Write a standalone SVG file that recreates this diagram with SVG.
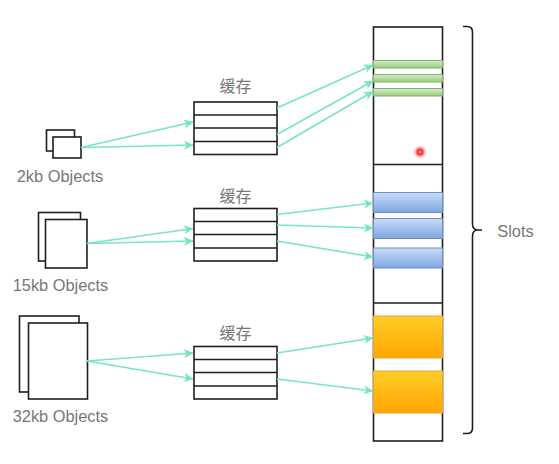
<svg xmlns="http://www.w3.org/2000/svg" width="559" height="464" viewBox="0 0 559 464">
<style>
.box{fill:#fff;stroke:#1f1f1f;stroke-width:1.6}
.line{fill:none;stroke:#1f1f1f;stroke-width:1.6}
.arrow{fill:none;stroke:#78e6bc;stroke-width:1.6;marker-end:url(#ah)}
.t{font-family:"Liberation Sans",Arial,sans-serif;font-size:16.4px;fill:#777;text-anchor:middle}
.cn{font-family:"Noto Sans CJK SC","Liberation Sans",sans-serif;font-size:16px;fill:#777;text-anchor:middle}
.green{fill:url(#gg);stroke:#82b366;stroke-width:1}
.blue{fill:url(#gb);stroke:#6c8ebf;stroke-width:1}
.orange{fill:url(#go);stroke:#e8a33c;stroke-width:1}
</style>
<defs>
<marker id="ah" markerUnits="userSpaceOnUse" markerWidth="11" markerHeight="11" refX="9" refY="5" orient="auto"><path d="M0 0.500L9.500 5L0 9.500L2.500 5Z" fill="#78e6bc"/></marker>
<linearGradient id="gg" x1="0" y1="0" x2="0" y2="1"><stop offset="0" stop-color="#d5e8d4"/><stop offset="1" stop-color="#97d077"/></linearGradient>
<linearGradient id="gb" x1="0" y1="0" x2="0" y2="1"><stop offset="0" stop-color="#c9dcfa"/><stop offset="1" stop-color="#7ea6e0"/></linearGradient>
<linearGradient id="go" x1="0" y1="0" x2="0" y2="1"><stop offset="0" stop-color="#ffcd28"/><stop offset="1" stop-color="#ffa500"/></linearGradient>
<radialGradient id="gr"><stop offset="0" stop-color="#f02020"/><stop offset="0.4" stop-color="#f04040"/><stop offset="0.7" stop-color="#ff9090" stop-opacity="0.6"/><stop offset="1" stop-color="#ffb0b0" stop-opacity="0"/></radialGradient>
</defs>
<g id="slab-column">
<rect class="box" x="373.500" y="27" width="69" height="414"/>
<path class="line" d="M373.500 164.500H442.500M373.500 303H442.500"/>
</g>
<g id="green-slots">
<rect class="green" x="373.500" y="60.500" width="69" height="7.500"/>
<rect class="green" x="373.500" y="74.500" width="69" height="7.500"/>
<rect class="green" x="373.500" y="88.500" width="69" height="7.500"/>
</g>
<g id="blue-slots">
<rect class="blue" x="373.500" y="192.500" width="69" height="20"/>
<rect class="blue" x="373.500" y="218.500" width="69" height="20"/>
<rect class="blue" x="373.500" y="248" width="69" height="20"/>
</g>
<g id="orange-slots">
<rect class="orange" x="373.500" y="316" width="69" height="42"/>
<rect class="orange" x="373.500" y="371" width="69" height="42"/>
</g>
<g id="red-dot">
<circle cx="420" cy="152" r="7" fill="url(#gr)"/>
<circle cx="420" cy="152" r="1.200" fill="#fff" opacity="0.6"/>
</g>
<g id="objects-2kb">
<rect class="box" x="46.500" y="130" width="28" height="21"/>
<rect class="box" x="53" y="137" width="28" height="21"/>
<text class="t" x="60" y="182">2kb Objects</text>
</g>
<g id="objects-15kb">
<rect class="box" x="38.500" y="212.500" width="42" height="48.500"/>
<rect class="box" x="45.500" y="219.500" width="41.500" height="48.500"/>
<text class="t" x="60.500" y="291">15kb Objects</text>
</g>
<g id="objects-32kb">
<rect class="box" x="19.500" y="316" width="59.500" height="76"/>
<rect class="box" x="28.500" y="323" width="59" height="76"/>
<text class="t" x="60.500" y="422">32kb Objects</text>
</g>
<g id="cache-1">
<rect class="box" x="194" y="102" width="83" height="52.500"/>
<path class="line" d="M194 115H277M194 128H277M194 141.500H277"/>
<text class="cn" x="235.500" y="92">缓存</text>
</g>
<g id="cache-2">
<rect class="box" x="194" y="208.500" width="83" height="52.500"/>
<path class="line" d="M194 221.500H277M194 234.500H277M194 248H277"/>
<text class="cn" x="235.500" y="202">缓存</text>
</g>
<g id="cache-3">
<rect class="box" x="194" y="346.500" width="83" height="52.500"/>
<path class="line" d="M194 359.500H277M194 372.500H277M194 386H277"/>
<text class="cn" x="235.500" y="339">缓存</text>
</g>
<g id="brace">
<path class="line" d="M463 26.500H467Q472.500 26.500 472.500 32V224Q472.500 230 478 230H482M478 230Q472.500 230 472.500 236V428Q472.500 433.500 467 433.500H463"/>
<text class="t" x="515.500" y="237">Slots</text>
</g>
<g id="connectors">
<path class="arrow" d="M81 147.500L193 122"/>
<path class="arrow" d="M81 147.500L193 145"/>
<path class="arrow" d="M87 243.500L193 228.500"/>
<path class="arrow" d="M87 243.500L193 241"/>
<path class="arrow" d="M87 361L193 353"/>
<path class="arrow" d="M87 361L193 379"/>
<path class="arrow" d="M277 108L373 65"/>
<path class="arrow" d="M277 134.500L373 81"/>
<path class="arrow" d="M277 147.500L373 91.500"/>
<path class="arrow" d="M277 214.500L373 203"/>
<path class="arrow" d="M277 225L373 228"/>
<path class="arrow" d="M277 241L373 257"/>
<path class="arrow" d="M277 353L373 338"/>
<path class="arrow" d="M277 379L373 391"/>
</g>
</svg>
